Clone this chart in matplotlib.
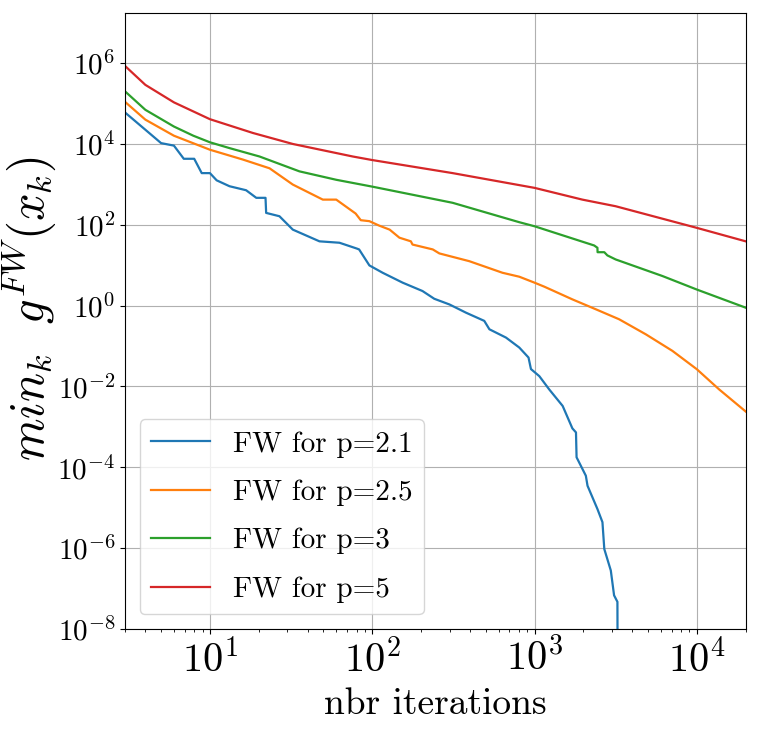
import matplotlib
matplotlib.use('Agg')
import matplotlib.pyplot as plt
import numpy as np

plt.rcParams['font.family'] = 'serif'
plt.rcParams['font.serif'] = ['cmr10']
plt.rcParams['mathtext.fontset'] = 'cm'
plt.rcParams['axes.formatter.use_mathtext'] = True

# values (iteration, min_k g^FW)
it_21 = [3, 4, 5, 6, 6.9, 8, 8.9, 10, 11, 13.2, 16.7, 19.3, 22, 22.2, 26.8, 32.4,
         47.3, 62.8, 80, 83, 96, 116, 154, 204, 241, 299, 378, 490, 527, 667,
         805, 918, 950, 1070, 1230, 1490, 1710, 1800, 1815, 2070, 2120, 2440,
         2620, 2690, 2950, 3090, 3240, 3250]
g_21 = [6.0e4, 2.25e4, 1.05e4, 9.1e3, 4.3e3, 4.3e3, 1.9e3, 1.9e3, 1.26e3, 900,
        717, 465, 465, 197, 163, 76, 39, 36, 26, 24.6, 9.9, 6.5, 3.7, 2.3, 1.48,
        1.07, 0.67, 0.42, 0.26, 0.162, 0.092, 0.052, 0.027, 0.018, 8.5e-3,
        3.3e-3, 9.2e-4, 7.3e-4, 1.77e-4, 6.2e-5, 3.5e-5, 9.3e-6, 4.4e-6,
        9.5e-7, 2.8e-7, 6.8e-8, 4.7e-8, 1e-9]

it_25 = [3, 4, 6, 10, 16, 23.3, 32.4, 49.6, 60, 79, 85, 96, 110, 128, 147, 173,
         177, 236, 259, 396, 635, 805, 1000, 1150, 1710, 2390, 3320, 4850, 7070,
         10000, 13700, 20000]
g_25 = [1.1e5, 4.0e4, 1.6e4, 7.2e3, 4.1e3, 2.5e3, 990, 420, 420, 190, 130, 123,
        96, 76, 48, 39, 32.5, 24.6, 19.6, 12.6, 6.5, 5.2, 3.7, 2.94, 1.43, 0.81,
        0.46, 0.195, 0.076, 0.0267, 8.5e-3, 2.4e-3]

it_3 = [3, 4, 6, 7.9, 10, 13.2, 20.2, 35.6, 60, 100, 313, 805, 1000, 2330,
        2440, 2445, 2690, 2810, 3160, 6140, 10000, 20000]
g_3 = [2.0e5, 7.0e4, 2.7e4, 1.6e4, 1.1e4, 7.9e3, 4.9e3, 2.1e3, 1.3e3, 880,
       350, 116, 92, 30.8, 27, 21, 21, 17.5, 13.9, 5.4, 2.5, 0.89]

it_5 = [3, 4, 6, 10, 18.4, 32.4, 75.8, 100, 313, 1000, 1970, 3160, 10000, 20000]
g_5 = [8.5e5, 2.9e5, 1.07e5, 4.1e4, 1.87e4, 1.0e4, 4.9e3, 4.0e3, 1.9e3, 820,
       420, 288, 84, 39]

labels = ['FW for p=2.1', 'FW for p=2.5', 'FW for p=3', 'FW for p=5']

fig = plt.figure(figsize=(7.58, 7.38), dpi=100)
ax = fig.add_axes([0.165, 0.1477, 0.8188, 0.8347])

ax.loglog(it_21, g_21, label=labels[0], lw=1.6)
ax.loglog(it_25, g_25, label=labels[1], lw=1.6)
ax.loglog(it_3, g_3, label=labels[2], lw=1.6)
ax.loglog(it_5, g_5, label=labels[3], lw=1.6)

ax.set_xlim(3, 2e4)
ax.set_ylim(1e-8, 1.74e7)
ax.set_yticks([1e-8, 1e-6, 1e-4, 1e-2, 1e0, 1e2, 1e4, 1e6])
ax.yaxis.set_minor_locator(matplotlib.ticker.NullLocator())
ax.grid(True, which='major')

ax.tick_params(axis='x', labelsize=29)
ax.tick_params(axis='y', labelsize=21)
ax.set_xlabel('nbr iterations', fontsize=27, labelpad=6)
ax.set_ylabel(r'$min_k\ \ g^{FW}(x_k)$', fontsize=35)
ax.yaxis.set_label_coords(-0.108, 0.52)

ax.legend(loc='lower left', fontsize=21, labelspacing=0.75)

fig.savefig('out.png', dpi=100)
